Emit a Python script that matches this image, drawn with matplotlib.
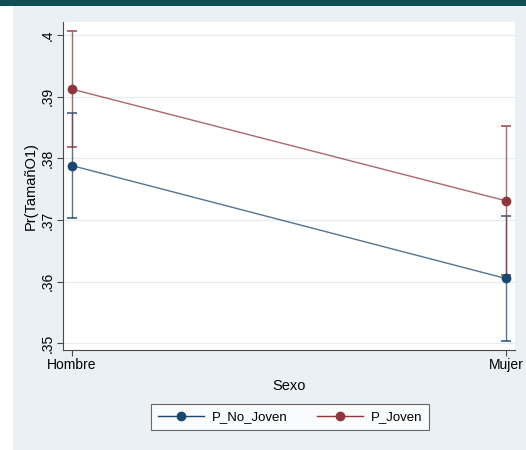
import matplotlib.pyplot as plt
import matplotlib.patches as patches

sexo = ["Hombre", "Mujer"]

# predicted probabilities and confidence bounds
p_no_joven = [0.3788, 0.3605]
p_no_joven_lo = [0.3703, 0.3503]
p_no_joven_hi = [0.3874, 0.3707]

p_joven = [0.3912, 0.3731]
p_joven_lo = [0.3818, 0.3610]
p_joven_hi = [0.4007, 0.3852]

yticks = [0.35, 0.36, 0.37, 0.38, 0.39, 0.40]
ytick_labels = [".35", ".36", ".37", ".38", ".39", ".4"]

blue = "#1a476f"
red = "#90353b"


def main():
    plt.rcParams["font.family"] = ["Liberation Sans", "DejaVu Sans"]
    fig = plt.figure(figsize=(5.26, 4.5), dpi=100, facecolor="white")

    # page background and the dark band at the top
    fig.patches.append(patches.Rectangle((13 / 526, 0), 1, 444 / 450, transform=fig.transFigure,
                                         facecolor="#eaf0f3", edgecolor="none", zorder=-2))
    fig.patches.append(patches.Rectangle((0, 444 / 450), 1, 6 / 450, transform=fig.transFigure,
                                         facecolor="#124d52", edgecolor="none", zorder=-2))

    ax = fig.add_axes([63 / 526, 100 / 450, 452 / 526, 328 / 450])
    ax.set_facecolor("white")

    x = list(range(len(sexo)))
    series = [
        (p_no_joven, p_no_joven_lo, p_no_joven_hi, blue, "P_No_Joven"),
        (p_joven, p_joven_lo, p_joven_hi, red, "P_Joven"),
    ]
    for vals, lo, hi, color, label in series:
        ax.vlines(x, lo, hi, color=color, linewidth=1, alpha=0.75, zorder=2)
        ax.hlines(lo + hi, [i - 0.012 for i in x] * 2, [i + 0.012 for i in x] * 2,
                  color=color, linewidth=1.2, alpha=0.85, zorder=2)
        ax.plot(x, vals, color=color, linewidth=1, alpha=0.75, zorder=3)
        ax.plot(x, vals, "o", color=color, markersize=6, zorder=4)
        ax.plot([], [], color=color, marker="o", markersize=6, linewidth=1, label=label)

    ax.set_xlim(-0.021, 1.021)
    ax.set_ylim(0.3489, 0.4021)
    ax.set_xticks(x)
    ax.set_xticklabels(sexo, fontsize=10)
    ax.set_yticks(yticks)
    ax.set_yticklabels(ytick_labels, fontsize=10, rotation=90, va="center")
    ax.grid(axis="y", color="#e6edf0", linewidth=0.9)
    ax.set_axisbelow(True)

    for side in ["top", "right"]:
        ax.spines[side].set_visible(False)
    for side in ["left", "bottom"]:
        ax.spines[side].set_color("#4a4a4a")
        ax.spines[side].set_linewidth(0.8)
    ax.tick_params(direction="out", length=4, width=0.8, color="#4a4a4a", pad=2)

    ax.set_ylabel("Pr(TamañO1)", fontsize=10.5, labelpad=2)
    ax.set_xlabel("Sexo", fontsize=10.5, labelpad=5)

    leg = fig.legend(loc="center", bbox_to_anchor=(290 / 526, 33 / 450), ncol=2,
                     fontsize=9.5, frameon=True, fancybox=False, handlelength=3.5,
                     handletextpad=0.6, columnspacing=2.2, borderpad=0.55)
    leg.get_frame().set_edgecolor("#444444")
    leg.get_frame().set_linewidth(0.8)

    fig.savefig("out.png", dpi=100)
    plt.close(fig)


if __name__ == '__main__':
    main()
